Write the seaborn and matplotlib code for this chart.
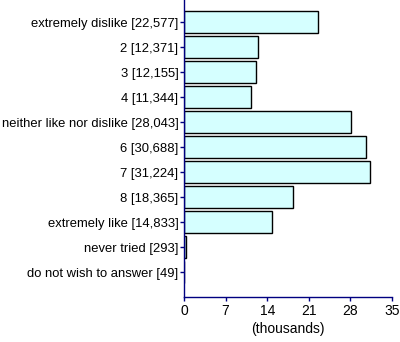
import matplotlib
matplotlib.use("Agg")
import matplotlib.pyplot as plt
import seaborn as sns
import pandas as pd

categories = ["extremely dislike", "2", "3", "4", "neither like nor dislike",
              "6", "7", "8", "extremely like", "never tried", "do not wish to answer"]
counts = [22577, 12371, 12155, 11344, 28043, 30688, 31224, 18365, 14833, 293, 49]
xticks = [0, 7, 14, 21, 28, 35]

labels = [f"{c} [{v:,}]" for c, v in zip(categories, counts)]
df = pd.DataFrame({"label": labels, "value": [v / 1000 for v in counts]})

sns.set_theme(style="white")
plt.rcParams["font.family"] = ["Liberation Sans", "DejaVu Sans"]

fig = plt.figure(figsize=(4.0, 3.42), dpi=100)
ax = fig.add_axes([184 / 400, 1 - 297 / 342, (392 - 184) / 400, 297 / 342])

sns.barplot(data=df, x="value", y="label", orient="h", ax=ax,
            color="#d5ffff", edgecolor="black", linewidth=1.0,
            width=0.86, saturation=1)

ax.set_xlim(0, 35)
ax.set_ylim(11, -0.88)
ax.set_xticks(xticks)
ax.set_xticklabels([str(t) for t in xticks])
ax.set_xlabel("(thousands)", fontsize=10, color="black", labelpad=3)
ax.set_ylabel("")
for s in ["top", "right"]:
    ax.spines[s].set_visible(False)
for s in ["left", "bottom"]:
    ax.spines[s].set_color("#000080")
    ax.spines[s].set_linewidth(1.0)
ax.tick_params(axis="both", which="both", direction="out", length=3, width=1,
               color="#000080", labelcolor="black", pad=1,
               left=True, bottom=True)
ax.tick_params(axis="y", labelsize=9.4)
ax.tick_params(axis="x", labelsize=10, pad=2)

fig.savefig("out.png", dpi=100)
